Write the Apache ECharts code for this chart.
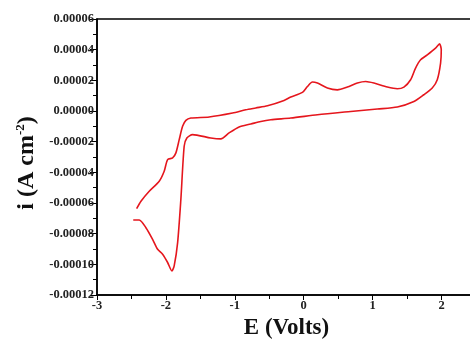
<!DOCTYPE html>
<html>
<head>
<meta charset="utf-8" />
<title>CV</title>
<script src="https://cdn.jsdelivr.net/npm/echarts@6/dist/echarts.min.js"></script>
<style type="text/css">
body, html {
	margin: 0;
	padding: 0;
	background-color: #ffffff;
}
#cv_chart {
	width: 470px;
	height: 345px;
}
</style>
</head>
<body>
	<div id="cv_chart"></div>
	<script>
		// potential (V)
		let potential = [
			-2.425, -2.362, -2.242, -2.097, -2.025, -1.975, -1.903, -1.855, -1.807, -1.758,
			-1.710, -1.638, -1.372, -1.033, -0.841, -0.696, -0.526, -0.286, -0.188, -0.019,
			0.054, 0.126, 0.199, 0.343, 0.488, 0.633, 0.778, 0.899, 1.019, 1.213,
			1.358, 1.454, 1.551, 1.623, 1.696, 1.793, 1.913, 1.971, 1.996, 1.986,
			1.938, 1.865, 1.743, 1.599, 1.358, 1.068, 0.681, 0.199, -0.188, -0.478,
			-0.623, -0.768, -0.938, -1.083, -1.203, -1.348, -1.613, -1.696, -1.735, -1.783,
			-1.830, -1.880, -1.913, -1.975, -2.048, -2.120, -2.193, -2.290, -2.387, -2.474
		];
		// current density (A cm-2)
		let current = [
			-6.37e-5, -5.88e-5, -5.23e-5, -4.58e-5, -3.93e-5, -3.17e-5, -3.06e-5, -2.73e-5, -1.87e-5, -1.00e-5,
			-0.61e-5, -0.46e-5, -0.39e-5, -0.13e-5, 0.08e-5, 0.20e-5, 0.34e-5, 0.69e-5, 0.91e-5, 1.21e-5,
			1.60e-5, 1.89e-5, 1.82e-5, 1.50e-5, 1.38e-5, 1.56e-5, 1.82e-5, 1.92e-5, 1.82e-5, 1.56e-5,
			1.45e-5, 1.56e-5, 2.04e-5, 2.80e-5, 3.34e-5, 3.66e-5, 4.10e-5, 4.38e-5, 3.99e-5, 3.12e-5,
			2.04e-5, 1.50e-5, 1.06e-5, 0.62e-5, 0.26e-5, 0.13e-5, -0.03e-5, -0.24e-5, -0.46e-5, -0.57e-5,
			-0.68e-5, -0.85e-5, -1.04e-5, -1.43e-5, -1.82e-5, -1.76e-5, -1.54e-5, -1.76e-5, -2.30e-5, -5.77e-5,
			-8.58e-5, -10.10e-5, -10.43e-5, -9.88e-5, -9.34e-5, -9.02e-5, -8.37e-5, -7.61e-5, -7.11e-5, -7.11e-5
		];

		let cvData = [];
		for (let k = 0; k < potential.length; k++) {
			cvData.push([potential[k], current[k]]);
		}

		let labelFont = {
			fontFamily: 'Liberation Serif',
			fontWeight: 'bold',
			fontSize: 12.5,
			color: '#222'
		};

		let cvChart = echarts.init(document.getElementById('cv_chart'));
		cvChart.setOption({
			animation: false,
			backgroundColor: '#ffffff',
			grid: {
				left: 97,
				top: 19,
				right: -6,
				bottom: 50,
				outerBoundsMode: 'none',
				containLabel: false,
				show: true,
				borderColor: '#000',
				borderWidth: 1.5
			},
			xAxis: {
				type: 'value',
				min: -3,
				max: 2.5,
				interval: 1,
				name: 'E (Volts)',
				nameLocation: 'middle',
				nameGap: 19,
				nameTextStyle: {
					fontFamily: 'Liberation Serif',
					fontWeight: 'bold',
					fontSize: 23,
					color: '#111'
				},
				axisLine: { onZero: false, lineStyle: { color: '#000', width: 1.5 } },
				axisTick: { length: 5, lineStyle: { color: '#000', width: 1 } },
				minorTick: { show: true, splitNumber: 2, length: 4, lineStyle: { color: '#000', width: 1 } },
				splitLine: { show: false },
				axisLabel: Object.assign({
					margin: 4,
					showMaxLabel: false
				}, labelFont)
			},
			yAxis: {
				type: 'value',
				min: -0.00012,
				max: 0.00006,
				interval: 0.00002,
				name: '{a|i (A cm}{s|-2}{a|)}',
				nameLocation: 'middle',
				nameGap: 58,
				nameTextStyle: {
					padding: [0, 12, 0, 0],
					rich: {
						a: { fontFamily: 'Liberation Serif', fontWeight: 'bold', fontSize: 24, color: '#111' },
						s: { fontFamily: 'Liberation Serif', fontWeight: 'bold', fontSize: 13, color: '#111', verticalAlign: 'top', padding: [0, 0, 12, 0] }
					}
				},
				axisLine: { onZero: false, lineStyle: { color: '#000', width: 1.5 } },
				axisTick: { length: 7, lineStyle: { color: '#000', width: 1 } },
				minorTick: { show: true, splitNumber: 2, length: 4, lineStyle: { color: '#000', width: 1 } },
				splitLine: { show: false },
				axisLabel: Object.assign({
					margin: 3,
					formatter: function (v) {
						return v.toFixed(5);
					}
				}, labelFont)
			},
			series: [
				{
					type: 'line',
					data: cvData,
					smooth: 0.25,
					showSymbol: false,
					lineStyle: { color: '#e5161d', width: 1.6 }
				}
			]
		});
	</script>
</body>
</html>
